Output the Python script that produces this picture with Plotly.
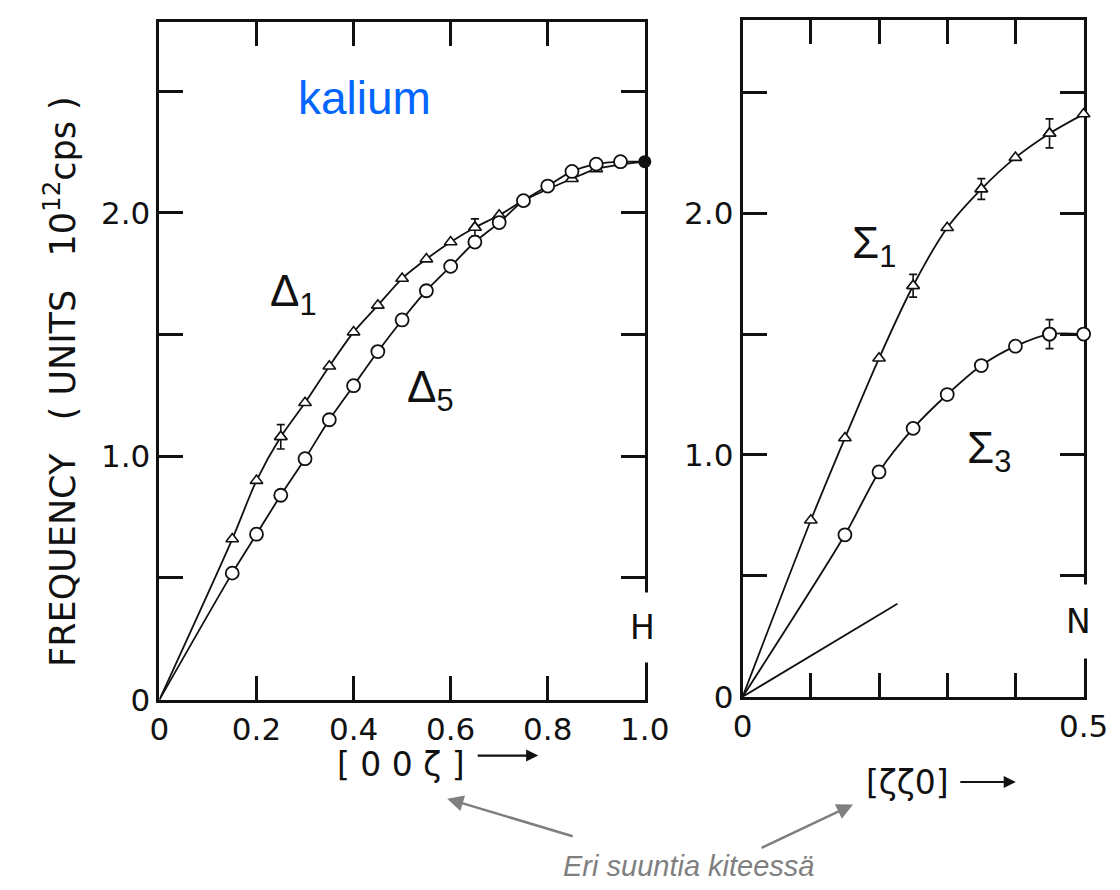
import plotly.graph_objects as go

# ---------------- data ----------------
# Left panel: [00ζ] direction
d1_x = [0.15, 0.20, 0.25, 0.30, 0.35, 0.40, 0.45, 0.50, 0.55, 0.60, 0.65, 0.70, 0.75, 0.85, 0.90]
d1_y = [0.66, 0.90, 1.08, 1.22, 1.37, 1.51, 1.62, 1.73, 1.81, 1.88, 1.94, 1.99, 2.05, 2.14, 2.18]
d1_err = [0, 0, 0.05, 0, 0, 0, 0, 0, 0, 0, 0.035, 0, 0, 0, 0]

d5_x = [0.15, 0.20, 0.25, 0.30, 0.35, 0.40, 0.45, 0.50, 0.55, 0.60, 0.65, 0.70, 0.75, 0.80, 0.85, 0.90, 0.95]
d5_y = [0.52, 0.68, 0.84, 0.99, 1.15, 1.29, 1.43, 1.56, 1.68, 1.78, 1.88, 1.96, 2.05, 2.11, 2.17, 2.20, 2.21]

h_x = [1.0]       # zone boundary point H (filled)
h_y = [2.21]

# Right panel: [ζζ0] direction
s1_x = [0.10, 0.15, 0.20, 0.25, 0.30, 0.35, 0.40, 0.45, 0.50]
s1_y = [0.73, 1.07, 1.40, 1.70, 1.94, 2.10, 2.23, 2.33, 2.41]
s1_err = [0, 0, 0, 0.047, 0, 0.043, 0, 0.06, 0]

s3_x = [0.15, 0.20, 0.25, 0.30, 0.35, 0.40, 0.45, 0.50]
s3_y = [0.67, 0.93, 1.11, 1.25, 1.37, 1.45, 1.50, 1.50]
s3_err = [0, 0, 0, 0, 0, 0, 0.06, 0]

s2_line_x = [0, 0.227]   # lowest straight branch from origin
s2_line_y = [0, 0.385]

origin = [0.0]

left_xticks = [0, 0.2, 0.4, 0.6, 0.8, 1.0]
left_xtext = ["0", "0.2", "0.4", "0.6", "0.8", "1.0"]
right_xticks = [0, 0.1, 0.2, 0.3, 0.4, 0.5]
right_xtext = ["0", "", "", "", "", "0.5"]
yticks = [0, 0.5, 1.0, 1.5, 2.0, 2.5]
ytext = ["0", "", "1.0", "", "2.0", ""]

# ---------------- styling ----------------
INK = "#111111"
FONT = "DejaVu Sans"
SANS = "Liberation Sans"
W, H = 1120, 890
NB = "\u00a0"


def px(x):
    return x / W


def py(y):
    return 1 - y / H


fig = go.Figure()

line_style = dict(color=INK, width=1.8, shape="spline", smoothing=0.8)
tri = dict(symbol="triangle-up", size=11, color="white", line=dict(color=INK, width=1.6))
circ = dict(symbol="circle", size=13, color="white", line=dict(color=INK, width=1.8))


def err_trace(xs, ys, es, marker, xa, ya):
    ex = [x for x, e in zip(xs, es) if e]
    ey = [y for y, e in zip(ys, es) if e]
    ee = [e for e in es if e]
    return go.Scatter(x=ex, y=ey, mode="markers", marker=marker, xaxis=xa, yaxis=ya,
                      error_y=dict(type="data", array=ee, visible=True, color=INK,
                                   thickness=1.6, width=4), cliponaxis=False)


# left panel curves
fig.add_trace(go.Scatter(x=origin + d1_x + h_x, y=origin + d1_y + h_y, mode="lines",
                         line=line_style, xaxis="x", yaxis="y"))
fig.add_trace(go.Scatter(x=origin + d5_x + h_x, y=origin + d5_y + h_y, mode="lines",
                         line=line_style, xaxis="x", yaxis="y"))
fig.add_trace(go.Scatter(x=d1_x, y=d1_y, mode="markers", marker=tri, xaxis="x", yaxis="y",
                         cliponaxis=False))
fig.add_trace(err_trace(d1_x, d1_y, d1_err, tri, "x", "y"))
fig.add_trace(go.Scatter(x=d5_x, y=d5_y, mode="markers", marker=circ, xaxis="x", yaxis="y",
                         cliponaxis=False))
fig.add_trace(go.Scatter(x=h_x, y=h_y, mode="markers",
                         marker=dict(symbol="circle", size=13, color=INK), xaxis="x", yaxis="y",
                         cliponaxis=False))

# right panel curves
fig.add_trace(go.Scatter(x=origin + s1_x, y=origin + s1_y, mode="lines", line=line_style,
                         xaxis="x2", yaxis="y2"))
fig.add_trace(go.Scatter(x=origin + s3_x, y=origin + s3_y, mode="lines", line=line_style,
                         xaxis="x2", yaxis="y2"))
fig.add_trace(go.Scatter(x=s2_line_x, y=s2_line_y, mode="lines",
                         line=dict(color=INK, width=1.8), xaxis="x2", yaxis="y2"))
fig.add_trace(go.Scatter(x=s1_x, y=s1_y, mode="markers", marker=tri, xaxis="x2", yaxis="y2",
                         cliponaxis=False))
fig.add_trace(err_trace(s1_x, s1_y, s1_err, tri, "x2", "y2"))
fig.add_trace(go.Scatter(x=s3_x, y=s3_y, mode="markers", marker=circ, xaxis="x2", yaxis="y2",
                         cliponaxis=False))
fig.add_trace(err_trace(s3_x, s3_y, s3_err, circ, "x2", "y2"))

axis_common = dict(showline=True, linewidth=3, linecolor=INK, mirror="ticks",
                   ticks="inside", ticklen=24, tickwidth=2.5, tickcolor=INK,
                   showgrid=False, zeroline=False, layer="below traces",
                   tickfont=dict(family=FONT, size=31, color=INK), fixedrange=True)

fig.update_layout(
    width=W, height=H,
    margin=dict(l=0, r=0, t=0, b=0),
    paper_bgcolor="white", plot_bgcolor="white",
    showlegend=False,
    xaxis=dict(domain=[px(146), px(647)], range=[0, 1.0], tickvals=left_xticks,
               ticktext=left_xtext, anchor="y", **axis_common),
    yaxis=dict(domain=[py(706), py(14)], range=[0, 2.785], tickvals=yticks,
               ticktext=ytext, anchor="x", **axis_common),
    xaxis2=dict(domain=[px(748), px(1100)], range=[0, 0.5], tickvals=right_xticks,
                ticktext=right_xtext, anchor="y2", **axis_common),
    yaxis2=dict(domain=[py(703), py(12)], range=[0, 2.80], tickvals=yticks,
                ticktext=ytext, anchor="x2", **axis_common),
)

ann = []


def label(text, x, y, size, color=INK, family=FONT, **kw):
    ann.append(dict(text=text, x=px(x), y=py(y), xref="paper", yref="paper",
                    xanchor="center", yanchor="middle", showarrow=False,
                    font=dict(family=family, size=size, color=color), **kw))


label("kalium", 358, 92, 46, color="#0066FF", family=SANS)
label("Δ<sub>1</sub>", 284, 292, 44, family=SANS)
label("Δ<sub>5</sub>", 426, 390, 44, family=SANS)
label("Σ<sub>1</sub>", 884, 243, 44, family=SANS)
label("Σ<sub>3</sub>", 1002, 452, 44, family=SANS)
label("H", 645, 632, 33, bgcolor="white", borderpad=15)
label("N", 1095, 626, 33, bgcolor="white", borderpad=17)
label("[ 0 0 ζ ]", 395, 772, 33)
label("[ζζ0]", 918, 790, 33)
ytitle = ("FREQUENCY" + NB * 3 + "(" + NB + "UNITS" + NB * 3 + "10<sup>12</sup>cps" + NB + ")")
label(ytitle, 44, 381, 35, textangle=-90)
label("<i>Eri suuntia kiteessä</i>", 692, 876, 29, color="#7f7f7f", family=SANS)

# small axis-direction arrows
for hx, hy, ax in [(537, 763, -62), (1030, 790, -57)]:
    ann.append(dict(text="", x=px(hx), y=py(hy), xref="paper", yref="paper",
                    showarrow=True, ax=ax, ay=0, arrowhead=2, arrowsize=1.1,
                    arrowwidth=2.2, arrowcolor=INK))
# grey pointer arrows
for hx, hy, ax, ay in [(443, 807, 127, 38), (862, 813, -93, 44)]:
    ann.append(dict(text="", x=px(hx), y=py(hy), xref="paper", yref="paper",
                    showarrow=True, ax=ax, ay=ay, arrowhead=2, arrowsize=1.3,
                    arrowwidth=2.5, arrowcolor="#7f7f7f"))

fig.update_layout(annotations=ann)
fig.write_html("out.html")
